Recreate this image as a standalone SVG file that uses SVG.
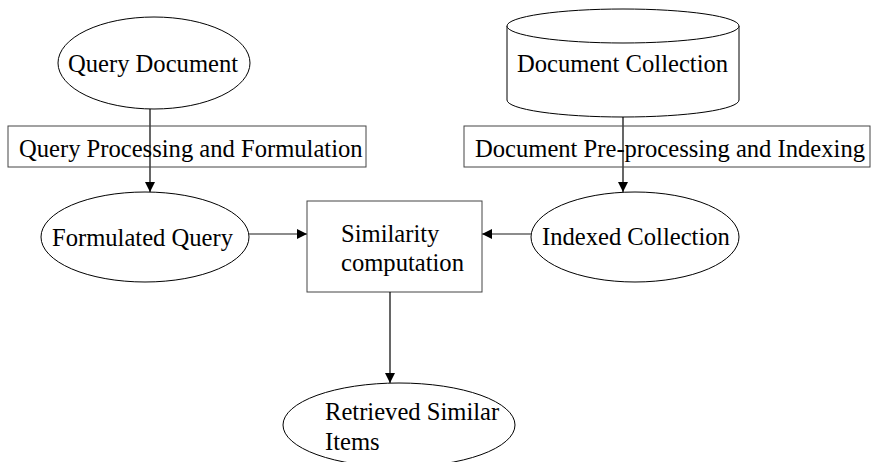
<svg xmlns="http://www.w3.org/2000/svg" width="872" height="462" viewBox="0 0 872 462">
  <defs>
    <marker id="arrow" viewBox="0 0 10 10" refX="10" refY="5" markerWidth="10" markerHeight="10" markerUnits="userSpaceOnUse" orient="auto">
      <path d="M0,0 L10,5 L0,10 Z" fill="#000"/>
    </marker>
  </defs>
  <style>
    .shape { fill: #fff; stroke: #000; stroke-width: 1; }
    .box { fill: #fff; stroke: #444; stroke-width: 1; }
    .label { font-family: "Liberation Serif", "Times New Roman", serif; font-size: 24.6px; fill: #000; }
    .edge { fill: none; stroke: #000; stroke-width: 1.2; }
    .edge-h { fill: none; stroke: #666; stroke-width: 1.6; }
  </style>
  <rect width="872" height="462" fill="#fff"/>

  <g id="query-document">
    <ellipse class="shape" cx="154" cy="63" rx="96" ry="46"/>
    <text class="label" x="68" y="72">Query Document</text>
  </g>

  <g id="document-collection">
    <path class="shape" d="M507,26 L507,100 A116,17 0 0 0 739,100 L739,26"/>
    <ellipse class="shape" cx="623" cy="26" rx="116" ry="17"/>
    <text class="label" x="517" y="72">Document Collection</text>
  </g>

  <g id="retrieved-similar-items">
    <ellipse class="shape" cx="399" cy="425" rx="116" ry="42"/>
    <text class="label" x="325" y="420">Retrieved Similar</text>
    <text class="label" x="325" y="450">Items</text>
  </g>

  <g id="formulated-query">
    <ellipse class="shape" cx="145" cy="237" rx="104" ry="45"/>
    <text class="label" x="52" y="246">Formulated Query</text>
  </g>

  <g id="indexed-collection">
    <ellipse class="shape" cx="635" cy="237" rx="104" ry="45"/>
    <text class="label" x="542" y="245">Indexed Collection</text>
  </g>

  <g id="similarity-computation">
    <rect class="box" x="307" y="201" width="175" height="91"/>
    <text class="label" x="341" y="242">Similarity</text>
    <text class="label" x="341" y="271">computation</text>
  </g>

  <g id="connectors">
    <line class="edge" x1="150" y1="109" x2="150" y2="192" marker-end="url(#arrow)"/>
    <line class="edge" x1="623" y1="117" x2="623" y2="192" marker-end="url(#arrow)"/>
    <line class="edge-h" x1="249" y1="234" x2="307" y2="234" marker-end="url(#arrow)"/>
    <line class="edge-h" x1="531" y1="234" x2="482" y2="234" marker-end="url(#arrow)"/>
    <line class="edge" x1="390" y1="292" x2="390" y2="383" marker-end="url(#arrow)"/>
  </g>

  <!-- step boxes sit over the vertical connectors; the line shows through them -->
  <g id="query-processing">
    <rect x="8" y="126" width="358" height="41" fill="none" stroke="#444" stroke-width="1"/>
    <text class="label" x="19" y="157">Query Processing and Formulation</text>
  </g>

  <g id="document-preprocessing">
    <rect x="464" y="126" width="406" height="41" fill="none" stroke="#444" stroke-width="1"/>
    <text class="label" x="475" y="157">Document Pre-processing and Indexing</text>
  </g>
</svg>
